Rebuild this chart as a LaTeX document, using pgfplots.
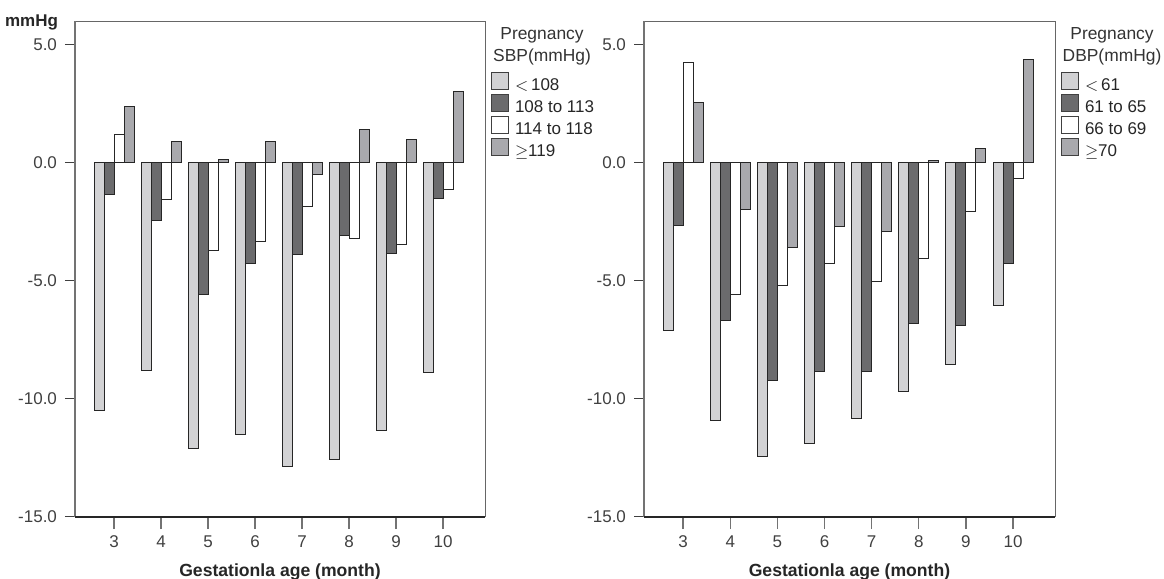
\documentclass[border=0pt]{standalone}
\usepackage{pgfplots}
\pgfplotsset{compat=1.18}
\usepackage{fontspec}
\setmainfont{Liberation Sans}
\definecolor{cA}{HTML}{D2D2D4}
\definecolor{cB}{HTML}{6B6B6D}
\definecolor{cC}{HTML}{FFFFFF}
\definecolor{cD}{HTML}{A9A9AD}
\definecolor{tk}{HTML}{404040}

\pgfplotsset{
  mybars/.style={
    scale only axis, clip=false,
    width=205pt, height=248pt,
    ybar=0pt, bar width=5pt,
    xmin=2.17, xmax=10.89,
    ymin=-15, ymax=6,
    xtick={3,4,5,6,7,8,9,10},
    xticklabels={3,4,5,6,7,8,9,10},
    ytick={-15,-10,-5,0,5},
    yticklabels={-15.0,-10.0,-5.0,0.0,5.0},
    xtick pos=bottom, ytick pos=left,
    tick align=outside,
    major tick length=5pt,
    xtick style={draw=black!55, line width=0.7pt, /pgfplots/major tick length=6pt},
    ytick style={draw=black!75, line width=0.5pt},
    axis line style={draw=black!60, line width=0.5pt},
    tick label style={font=\fontsize{8.5}{10}\selectfont, text=tk},
    yticklabel style={xshift=-0.5pt},
    xticklabel style={yshift=-1pt},
    xlabel={\textbf{Gestationla age (month)}},
    xlabel style={font=\fontsize{8.8}{10}\selectfont, text=black!85, yshift=-1pt},
    every axis plot/.append style={draw=black!85, line width=0.5pt},
    legend image code/.code={\draw[##1, draw=black!75, line width=0.5pt] (0pt,-1.3pt) rectangle (8.5pt,7.2pt);},
    legend cell align=left,
    legend style={draw=none, fill=none, at={(rel axis cs:1,1)}, anchor=north west,
      xshift=3pt, yshift=-25.25pt, inner sep=0pt, column sep=2.8pt, row sep=-0.75pt,
      font=\fontsize{8.5}{10}\selectfont, text=black!85,
      nodes={inner sep=0pt, text height=6pt, text depth=2.5pt}},
  }
}

\begin{document}
\begin{tikzpicture}
\path[use as bounding box] (0,0) rectangle (582pt,289.5pt);

% ---------------- SBP ----------------
\begin{axis}[mybars, at={(37.5pt,31pt)}, anchor=south west]
\addplot[fill=cA] coordinates {(3,-10.5) (4,-8.8) (5,-12.1) (6,-11.5) (7,-12.85) (8,-12.55) (9,-11.35) (10,-8.9)};
\addplot[fill=cB] coordinates {(3,-1.35) (4,-2.45) (5,-5.6) (6,-4.25) (7,-3.9) (8,-3.1) (9,-3.85) (10,-1.5)};
\addplot[fill=cC] coordinates {(3,1.2) (4,-1.55) (5,-3.7) (6,-3.35) (7,-1.85) (8,-3.2) (9,-3.45) (10,-1.15)};
\addplot[fill=cD] coordinates {(3,2.38) (4,0.9) (5,0.15) (6,0.9) (7,-0.5) (8,1.4) (9,1.0) (10,3.0)};
\legend{$<$\,108, 108 to 113, 114 to 118, $\geq$119}
\draw[black!55, line width=1pt] (rel axis cs:0,0) -- (rel axis cs:0,1);
\draw[black!85, line width=0.6pt] (rel axis cs:0,0) -- (rel axis cs:1,0);
\node[anchor=east, font=\fontsize{8.5}{10}\selectfont\bfseries, text=black!85] at (rel axis cs:0,1) [xshift=-5pt, yshift=-0.5pt] {mmHg};
\node[anchor=north, align=center, font=\fontsize{8.7}{11}\selectfont, text=black!80] at (rel axis cs:1,1) [xshift=28.5pt, yshift=0.5pt] {Pregnancy\\SBP(mmHg)};
\end{axis}

% ---------------- DBP ----------------
\begin{axis}[mybars, at={(322pt,31pt)}, anchor=south west, width=205.5pt]
\addplot[fill=cA] coordinates {(3,-7.1) (4,-10.9) (5,-12.45) (6,-11.9) (7,-10.85) (8,-9.7) (9,-8.55) (10,-6.05)};
\addplot[fill=cB] coordinates {(3,-2.65) (4,-6.7) (5,-9.2) (6,-8.85) (7,-8.85) (8,-6.8) (9,-6.9) (10,-4.25)};
\addplot[fill=cC] coordinates {(3,4.25) (4,-5.6) (5,-5.2) (6,-4.25) (7,-5.05) (8,-4.05) (9,-2.05) (10,-0.65)};
\addplot[fill=cD] coordinates {(3,2.55) (4,-2.0) (5,-3.6) (6,-2.7) (7,-2.9) (8,0.1) (9,0.6) (10,4.35)};
\legend{$<$\,61, 61 to 65, 66 to 69, $\geq$70}
\draw[black!55, line width=1pt] (rel axis cs:0,0) -- (rel axis cs:0,1);
\draw[black!85, line width=0.6pt] (rel axis cs:0,0) -- (rel axis cs:1,0);
\node[anchor=north, align=center, font=\fontsize{8.7}{11}\selectfont, text=black!80] at (rel axis cs:1,1) [xshift=28.5pt, yshift=0.5pt] {Pregnancy\\DBP(mmHg)};
\end{axis}
\end{tikzpicture}
\end{document}
